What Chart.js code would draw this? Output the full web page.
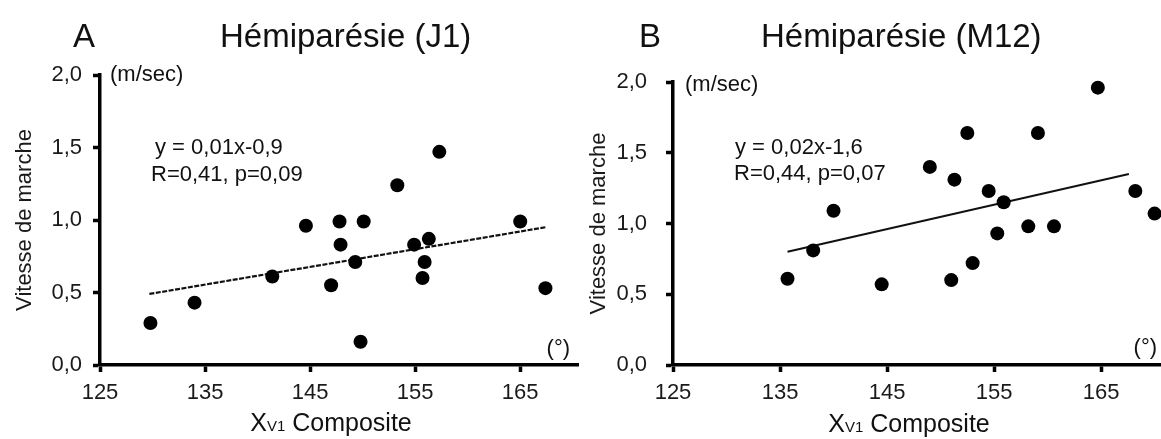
<!DOCTYPE html>
<html><head><meta charset="utf-8">
<script src="https://cdn.jsdelivr.net/npm/chart.js@4.4.1/dist/chart.umd.min.js"></script>
<style>
html,body{margin:0;padding:0;background:#fff;width:1161px;height:439px;overflow:hidden}
canvas{position:absolute;top:0}
#cA{left:0}
#cB{left:580px}
</style></head><body>
<canvas id="cA" width="580" height="439"></canvas>
<canvas id="cB" width="581" height="439"></canvas>
<script>
// ---- data ----
const xTicks = [125, 135, 145, 155, 165];
const yTicks = [0, 0.5, 1.0, 1.5, 2.0];

const j1X = [129.8, 134.0, 141.4, 144.6, 147.0, 147.8, 147.9, 149.3, 149.8, 150.1, 153.3, 154.9, 155.7, 155.9, 156.3, 157.3, 165.0, 167.4];
const j1Y = [0.29, 0.43, 0.61, 0.96, 0.55, 0.99, 0.83, 0.71, 0.16, 0.99, 1.24, 0.83, 0.60, 0.71, 0.87, 1.47, 0.99, 0.53];
const j1TrendX = [129.7, 167.4];
const j1TrendY = [0.49, 0.95];

const m12X = [135.7, 138.1, 140.0, 144.5, 149.0, 151.0, 151.3, 152.5, 153.0, 154.5, 155.3, 155.9, 158.2, 159.1, 160.6, 164.7, 168.2, 170.0];
const m12Y = [0.61, 0.81, 1.09, 0.57, 1.40, 0.60, 1.31, 1.64, 0.72, 1.23, 0.93, 1.15, 0.98, 1.64, 0.98, 1.96, 1.23, 1.07];
const m12TrendX = [135.7, 167.6];
const m12TrendY = [0.80, 1.35];

const panelLetters = ['A', 'B'];
const panelTitles = ['Hémiparésie (J1)', 'Hémiparésie (M12)'];
const equations = ['y = 0,01x-0,9', 'y = 0,02x-1,6'];
const statsText = ['R=0,41, p=0,09', 'R=0,44, p=0,07'];
const yTitle = 'Vitesse de marche';
const yUnit = '(m/sec)';
const xUnit = '(°)';
const xTitleMain = 'X', xTitleSub = 'V1', xTitleRest = ' Composite';

// ---- rendering ----
const FAM = '"Liberation Sans", Arial, Helvetica, sans-serif';
const toPts = (xs, ys) => xs.map((x, i) => ({x: x, y: ys[i]}));

const textPlugin = {
  id: 'panelText',
  afterDraw(chart, args, o) {
    const ctx = chart.ctx;
    ctx.save();
    ctx.fillStyle = '#111';
    ctx.textAlign = 'left';
    ctx.textBaseline = 'alphabetic';
    ctx.font = '33px ' + FAM;
    ctx.fillText(o.letter, o.letterX, 47);
    ctx.fillText(o.title, o.titleX, 47);
    ctx.font = '22px ' + FAM;
    ctx.textBaseline = 'middle';
    ctx.fillText(o.eq, o.eqX, o.eqY);
    ctx.fillText(o.stat, o.statX, o.statY);
    ctx.fillText(yUnit, o.unitX, o.unitY);
    ctx.textAlign = 'right';
    ctx.fillText(xUnit, o.degX, o.degY);
    // x axis title with small "V1"
    ctx.textBaseline = 'alphabetic';
    ctx.textAlign = 'left';
    ctx.font = '25px ' + FAM;
    const w1 = ctx.measureText(xTitleMain).width;
    const w3 = ctx.measureText(xTitleRest).width;
    ctx.font = '15px ' + FAM;
    const w2 = ctx.measureText(xTitleSub).width;
    const x0 = o.xtCenter - (w1 + w2 + w3) / 2;
    ctx.font = '25px ' + FAM;
    ctx.fillText(xTitleMain, x0, o.xtBase);
    ctx.font = '15px ' + FAM;
    ctx.fillText(xTitleSub, x0 + w1, o.xtBase);
    ctx.font = '25px ' + FAM;
    ctx.fillText(xTitleRest, x0 + w1 + w2, o.xtBase);
    ctx.restore();
  }
};

function makeChart(id, pts, trend, dash, cfg) {
  return new Chart(document.getElementById(id), {
    data: {
      datasets: [
        {type: 'line', data: trend, borderColor: '#111', borderWidth: cfg.lineW, borderDash: dash,
         pointRadius: 0, fill: false, tension: 0, clip: false, order: 2},
        {type: 'scatter', data: pts, backgroundColor: '#000', borderWidth: 0,
         pointRadius: 7, pointHoverRadius: 7, clip: false, order: 1}
      ]
    },
    options: {
      responsive: false,
      animation: false,
      events: [],
      layout: {autoPadding: false, padding: {left: 0, top: cfg.top, right: cfg.padRight, bottom: 0}},
      plugins: {
        legend: {display: false},
        tooltip: {enabled: false},
        panelText: cfg.text
      },
      scales: {
        x: {
          type: 'linear', min: 125, max: cfg.xMax,
          afterBuildTicks: s => { s.ticks = xTicks.map(v => ({value: v})); },
          afterFit: s => { s.height = 74; s.paddingLeft = 0; s.paddingRight = 0; },
          ticks: {padding: cfg.xTickPad, color: '#1a1a1a', font: {family: FAM, size: 22},
                  maxRotation: 0, autoSkip: false, callback: v => String(v)},
          grid: {drawOnChartArea: false, drawTicks: true, tickLength: 7, tickWidth: 3.5, tickColor: '#000'},
          border: {display: true, color: '#000', width: 3.5}
        },
        y: {
          type: 'linear', min: 0, max: 2,
          afterBuildTicks: s => { s.ticks = yTicks.map(v => ({value: v})); },
          afterFit: s => { s.width = cfg.yWidth; s.paddingTop = 0; s.paddingBottom = 0; },
          ticks: {padding: cfg.yTickPad, color: '#1a1a1a', font: {family: FAM, size: 22},
                  autoSkip: false, callback: v => v.toFixed(1).replace('.', ',')},
          grid: {drawOnChartArea: false, drawTicks: true, tickLength: 7, tickWidth: 3.5, tickColor: '#000'},
          border: {display: true, color: '#000', width: 3.5},
          title: {display: true, text: yTitle, color: '#1a1a1a', font: {family: FAM, size: 22},
                  padding: {top: cfg.yTitlePad, bottom: 0}}
        }
      }
    },
    plugins: [textPlugin]
  });
}

makeChart('cA', toPts(j1X, j1Y), toPts(j1TrendX, j1TrendY), [5, 1.5], {
  top: 75, padRight: 2, xMax: 170.5, yWidth: 100, xTickPad: 8, yTickPad: 11, yTitlePad: 12, lineW: 2.2,
  text: {letter: panelLetters[0], letterX: 73, title: panelTitles[0], titleX: 220,
         eq: equations[0], eqX: 155, eqY: 148, stat: statsText[0], statX: 151, statY: 175,
         unitX: 110, unitY: 75, degX: 570, degY: 349, xtCenter: 331, xtBase: 431}
});

makeChart('cB', toPts(m12X, m12Y), toPts(m12TrendX, m12TrendY), [], {
  top: 82, padRight: 0, xMax: 170.6, yWidth: 93, xTickPad: 8, yTickPad: 19, yTitlePad: 6, lineW: 2,
  text: {letter: panelLetters[1], letterX: 59, title: panelTitles[1], titleX: 181,
         eq: equations[1], eqX: 155, eqY: 148, stat: statsText[1], statX: 154, statY: 174,
         unitX: 105, unitY: 85, degX: 577, degY: 348, xtCenter: 329, xtBase: 432}
});
</script>
</body></html>
